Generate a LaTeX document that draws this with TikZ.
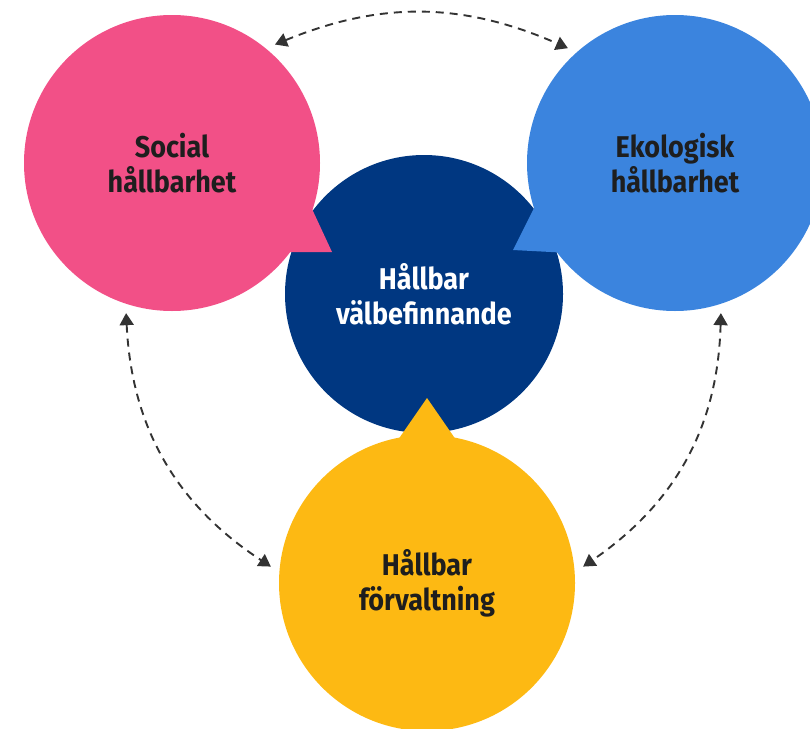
\documentclass[tikz,border=0pt]{standalone}
\usepackage{fontspec}
\setmainfont{Fira Sans}[FakeStretch=0.9]
\usetikzlibrary{positioning}
\usetikzlibrary{arrows.meta}
\definecolor{socialpink}{HTML}{F25087}
\definecolor{ekoblue}{HTML}{3B84DE}
\definecolor{hubnavy}{HTML}{003781}
\definecolor{forvyellow}{HTML}{FDB913}
\definecolor{txtdark}{HTML}{1E1E1E}
\definecolor{linkgray}{HTML}{333333}
\tikzset{bubble/.style={circle, minimum size=296pt, inner sep=0pt, outer sep=9pt, align=center, text=txtdark, font=\bfseries\fontsize{30}{35}\selectfont}}
\tikzset{link/.style={draw=linkgray, line width=1.9pt, dash pattern=on 8pt off 6pt, {Triangle[length=12pt,width=14pt]}-{Triangle[length=12pt,width=14pt]}}}
\begin{document}
\begin{tikzpicture}[x=1pt,y=-1pt]
\useasboundingbox (0,0) rectangle (810,728);
\node[bubble, fill=hubnavy, minimum size=278pt, text=white] (hub) at (424,294) {Hållbar\\välbefinnande};

% speech bubble tails
\fill[socialpink] (306,196) -- (332,252) -- (280,252) -- cycle;
\fill[ekoblue] (541,194) -- (513,250) -- (570,253) -- cycle;
\fill[forvyellow] (391,450) -- (427,398) -- (463,450) -- cycle;

\node[bubble, fill=socialpink] (social) at (172,163) {Social\\hållbarhet};
\node[bubble, fill=ekoblue] (eko) at (675,163) {Ekologisk\\hållbarhet};
\node[bubble, fill=forvyellow] (forv) at (427,583) {Hållbar\\förvaltning};

\draw[link] (social.49) to[bend left=23] (eko.133);
\draw[link] (social.253) to[bend right=27] (forv.174);
\draw[link] (eko.287) to[bend left=27] (forv.6);
\end{tikzpicture}
\end{document}
